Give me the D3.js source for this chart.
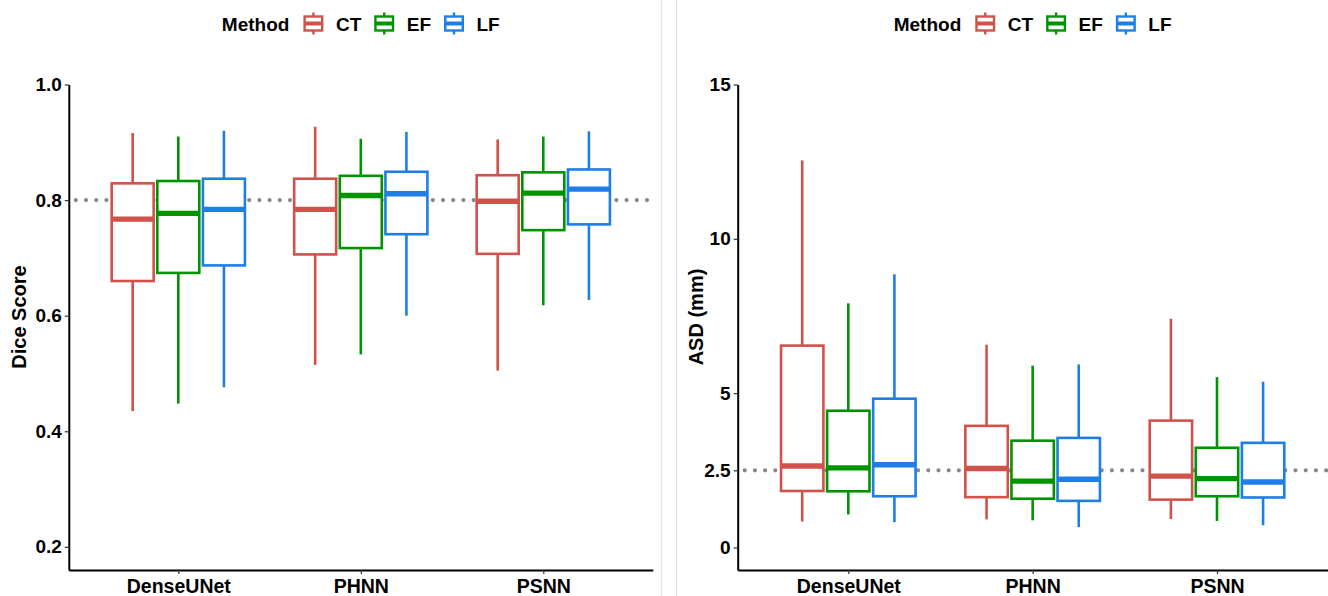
<!DOCTYPE html>
<html>
<head>
<meta charset="utf-8">
<script src="https://cdn.jsdelivr.net/npm/d3@7"></script>
<style>
  html, body { margin: 0; padding: 0; background: #fff; }
  svg { display: block; font-family: "Liberation Sans", Arial, sans-serif; }
</style>
</head>
<body>
<svg id="chart" width="1328" height="596"></svg>
<script>
// ---------------- DATA ----------------
const categories = ["DenseUNet", "PHNN", "PSNN"];
const methods = ["CT", "EF", "LF"];
const methodColors = ["#D0524A", "#009400", "#1F7EE6"];

// five-number summaries [lower whisker, Q1, median, Q3, upper whisker] per category
const diceCT = [[0.435, 0.660, 0.767, 0.829, 0.916], [0.515, 0.706, 0.784, 0.837, 0.927], [0.505, 0.707, 0.798, 0.843, 0.905]];
const diceEF = [[0.448, 0.674, 0.777, 0.833, 0.910], [0.533, 0.717, 0.808, 0.842, 0.906], [0.618, 0.748, 0.812, 0.848, 0.910]];
const diceLF = [[0.476, 0.687, 0.784, 0.837, 0.920], [0.600, 0.741, 0.811, 0.849, 0.918], [0.627, 0.758, 0.819, 0.853, 0.919]];

const asdCT = [[0.84, 1.83, 2.64, 6.54, 12.54], [0.91, 1.63, 2.56, 3.94, 6.57], [0.92, 1.55, 2.31, 4.11, 7.41]];
const asdEF = [[1.07, 1.82, 2.58, 4.43, 7.91], [0.88, 1.58, 2.15, 3.46, 5.89], [0.86, 1.66, 2.23, 3.23, 5.52]];
const asdLF = [[0.82, 1.66, 2.68, 4.82, 8.85], [0.66, 1.51, 2.21, 3.55, 5.93], [0.72, 1.62, 2.12, 3.39, 5.37]];

const diceTicks = [0.2, 0.4, 0.6, 0.8, 1.0];
const asdTicks = [0, 2.5, 5, 10, 15];
const diceRef = 0.8;
const asdRef = 2.5;
const legendTitle = "Method";

// ---------------- DRAW ----------------
const svg = d3.select("#chart");

// panel separators
svg.append("line").attr("x1", 661.5).attr("x2", 661.5).attr("y1", 0).attr("y2", 596)
  .attr("stroke", "#e2e2e2").attr("stroke-width", 1.2);
svg.append("line").attr("x1", 676.5).attr("x2", 676.5).attr("y1", 0).attr("y2", 596)
  .attr("stroke", "#e2e2e2").attr("stroke-width", 1.2);

function drawPanel(cfg) {
  const x = d3.scalePoint().domain(categories).range([cfg.x0, cfg.x1]).padding(0.6);
  const y = d3.scaleLinear().domain(cfg.yDomain).range([570, 84.5]);
  const step = x.step();
  const dodge = d3.scaleBand().domain(methods).range([-0.375 * step, 0.375 * step]);
  const boxW = 0.23 * step;
  const g = svg.append("g");

  // reference line (dotted)
  g.append("line")
    .attr("x1", cfg.x0 + 7).attr("x2", cfg.x1)
    .attr("y1", y(cfg.ref)).attr("y2", y(cfg.ref))
    .attr("stroke", "#878787").attr("stroke-width", 4.2)
    .attr("stroke-linecap", "round").attr("stroke-dasharray", "0 10.2");

  // boxes
  cfg.series.forEach((ser, mi) => {
    const col = methodColors[mi];
    ser.forEach((s, ci) => {
      const cx = x(categories[ci]) + dodge(methods[mi]) + dodge.bandwidth() / 2;
      const bg = g.append("g");
      // whiskers
      bg.append("line").attr("x1", cx).attr("x2", cx).attr("y1", y(s[4])).attr("y2", y(s[3]))
        .attr("stroke", col).attr("stroke-width", 2.6);
      bg.append("line").attr("x1", cx).attr("x2", cx).attr("y1", y(s[1])).attr("y2", y(s[0]))
        .attr("stroke", col).attr("stroke-width", 2.6);
      // box
      bg.append("rect").attr("x", cx - boxW / 2).attr("width", boxW)
        .attr("y", y(s[3])).attr("height", y(s[1]) - y(s[3]))
        .attr("fill", "#fff").attr("stroke", col).attr("stroke-width", 2.6);
      // median
      bg.append("line").attr("x1", cx - boxW / 2).attr("x2", cx + boxW / 2)
        .attr("y1", y(s[2])).attr("y2", y(s[2]))
        .attr("stroke", col).attr("stroke-width", 5.4);
    });
  });

  // axes
  const yAxis = d3.axisLeft(y).tickValues(cfg.ticks).tickFormat(cfg.fmt)
    .tickSize(4).tickSizeOuter(0).tickPadding(3);
  const ya = g.append("g").attr("transform", `translate(${cfg.x0},0)`).call(yAxis);
  ya.select(".domain").attr("stroke", "#000").attr("stroke-width", 2);
  ya.selectAll(".tick line").attr("stroke", "#333").attr("stroke-width", 1.2);
  ya.selectAll(".tick text").attr("fill", "#000").style("font-size", "19px").style("font-weight", "bold")
    .style("font-family", "'Liberation Sans', Arial, sans-serif");

  const xAxis = d3.axisBottom(x).tickSize(4).tickSizeOuter(0).tickPadding(5);
  const xa = g.append("g").attr("transform", "translate(0,570)").call(xAxis);
  xa.select(".domain").attr("stroke", "#000").attr("stroke-width", 2.2);
  xa.selectAll(".tick line").attr("stroke", "#333").attr("stroke-width", 1.2);
  xa.selectAll(".tick text").attr("fill", "#000").style("font-size", "19.5px").style("font-weight", "bold")
    .style("font-family", "'Liberation Sans', Arial, sans-serif");

  // y title
  g.append("text")
    .attr("transform", `translate(${cfg.titleX},317) rotate(-90)`)
    .attr("text-anchor", "middle").attr("dominant-baseline", "central")
    .style("font-size", "20px").style("font-weight", "bold").attr("fill", "#000")
    .text(cfg.title);

  // legend
  const lg = g.append("g");
  const fs = "19px";
  const items = [];
  const t0 = lg.append("text").text(legendTitle).style("font-size", fs).style("font-weight", "bold")
    .attr("y", 30.5).attr("fill", "#000");
  let cur = t0.node().getComputedTextLength() + 13;
  methods.forEach((m, i) => {
    const k = lg.append("g").attr("transform", `translate(${cur},0)`);
    const col = methodColors[i];
    k.append("line").attr("x1", 11).attr("x2", 11).attr("y1", 12.5).attr("y2", 16.5).attr("stroke", col).attr("stroke-width", 2.4);
    k.append("line").attr("x1", 11).attr("x2", 11).attr("y1", 30.5).attr("y2", 34.5).attr("stroke", col).attr("stroke-width", 2.4);
    k.append("rect").attr("x", 2.2).attr("y", 16.5).attr("width", 17.6).attr("height", 14)
      .attr("fill", "#fff").attr("stroke", col).attr("stroke-width", 2.4);
    k.append("line").attr("x1", 2.2).attr("x2", 19.8).attr("y1", 23.5).attr("y2", 23.5).attr("stroke", col).attr("stroke-width", 4);
    cur += 22 + 11.5;
    const t = lg.append("text").text(m).attr("x", cur).attr("y", 30.5)
      .style("font-size", fs).style("font-weight", "bold").attr("fill", "#000");
    cur += t.node().getComputedTextLength() + 12;
  });
  const totalW = cur - 12;
  const center = (cfg.x0 + cfg.x1) / 2;
  lg.attr("transform", `translate(${center - totalW / 2},0)`);
}

drawPanel({
  x0: 68.8, x1: 652.8,
  yDomain: [0.16, 1.0],
  ticks: diceTicks, fmt: d3.format(".1f"),
  ref: diceRef,
  title: "Dice Score", titleX: 19,
  series: [diceCT, diceEF, diceLF]
});

drawPanel({
  x0: 737.7, x1: 1327.6,
  yDomain: [-0.73, 15],
  ticks: asdTicks, fmt: d => String(d),
  ref: asdRef,
  title: "ASD (mm)", titleX: 696,
  series: [asdCT, asdEF, asdLF]
});
</script>
</body>
</html>
